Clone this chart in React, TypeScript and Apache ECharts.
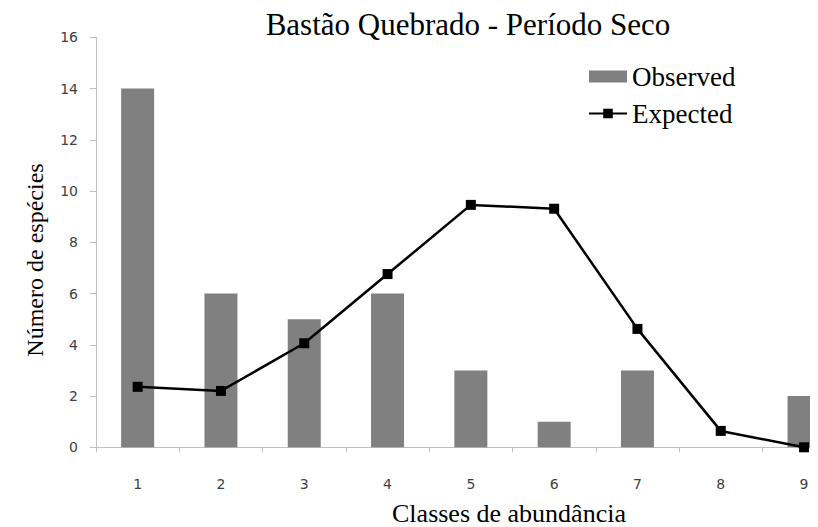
import React, { useEffect, useRef } from "react";
import * as echarts from "echarts";

const categories = ["1", "2", "3", "4", "5", "6", "7", "8", "9"];
const observed = [14, 6, 5, 6, 3, 1, 3, 0, 2];
const expected = [2.36, 2.2, 4.06, 6.76, 9.46, 9.31, 4.62, 0.64, 0.0];
const yTicks = { min: 0, max: 16, interval: 2 };
const titleText = "Bastão Quebrado - Período Seco";
const yName = "Número de espécies";
const xName = "Classes de abundância";

const SERIF = "Liberation Serif, serif";
const SANS = "DejaVu Sans, sans-serif";

export default function App() {
  const ref = useRef<HTMLDivElement>(null);
  useEffect(() => {
    if (!ref.current) return;
    const chart = echarts.init(ref.current, undefined, { renderer: "svg" });
    chart.setOption({
      animation: false,
      backgroundColor: "#ffffff",
      grid: { left: 88, right: 22.3, top: 29.3, bottom: 79.7, containLabel: false },
      legend: {
        orient: "vertical",
        left: 575,
        top: 50,
        itemWidth: 38,
        itemHeight: 12,
        itemGap: 10,
        textStyle: { fontFamily: SERIF, fontSize: 27, color: "#000" },
        data: [
          { name: "Observed", icon: "rect" },
          { name: "Expected" },
        ],
      },
      xAxis: {
        type: "category",
        data: categories,
        boundaryGap: true,
        axisLine: { lineStyle: { color: "#bfbfbf", width: 1 } },
        axisTick: { show: true, length: 5, alignWithLabel: false, lineStyle: { color: "#bfbfbf" } },
        axisLabel: { margin: 30, fontFamily: SANS, fontSize: 14, color: "#404040" },
        splitLine: { show: false },
      },
      yAxis: {
        type: "value",
        min: yTicks.min,
        max: yTicks.max,
        interval: yTicks.interval,
        axisLine: { show: true, lineStyle: { color: "#bfbfbf", width: 1 } },
        axisTick: { show: true, length: 6, lineStyle: { color: "#bfbfbf" } },
        axisLabel: { margin: 18, fontFamily: SANS, fontSize: 14, color: "#404040" },
        splitLine: { show: false },
      },
      graphic: [
        {
          type: "text",
          x: 460,
          y: 16,
          style: {
            text: titleText,
            fontFamily: SERIF,
            fontSize: 31,
            fill: "#000",
            textAlign: "center",
            textVerticalAlign: "middle",
          },
        },
        {
          type: "text",
          x: 27,
          y: 252,
          rotation: Math.PI / 2,
          style: {
            text: yName,
            fontFamily: SERIF,
            fontSize: 24,
            fill: "#000",
            textAlign: "center",
            textVerticalAlign: "middle",
          },
        },
        {
          type: "text",
          x: 501,
          y: 505.5,
          style: {
            text: xName,
            fontFamily: SERIF,
            fontSize: 26,
            fill: "#000",
            textAlign: "center",
            textVerticalAlign: "middle",
          },
        },
      ],
      series: [
        {
          name: "Observed",
          type: "bar",
          data: observed,
          barWidth: 33,
          itemStyle: { color: "#808080" },
        },
        {
          name: "Expected",
          type: "line",
          data: expected,
          symbol: "rect",
          symbolSize: 10,
          lineStyle: { color: "#000", width: 2.5 },
          itemStyle: { color: "#000" },
          z: 5,
        },
      ],
    });
    return () => chart.dispose();
  }, []);
  return (
    <div style={{ width: 802, height: 519, overflow: "hidden", position: "relative", background: "#fff" }}>
      <div ref={ref} style={{ width: 860, height: 519 }} />
    </div>
  );
}
